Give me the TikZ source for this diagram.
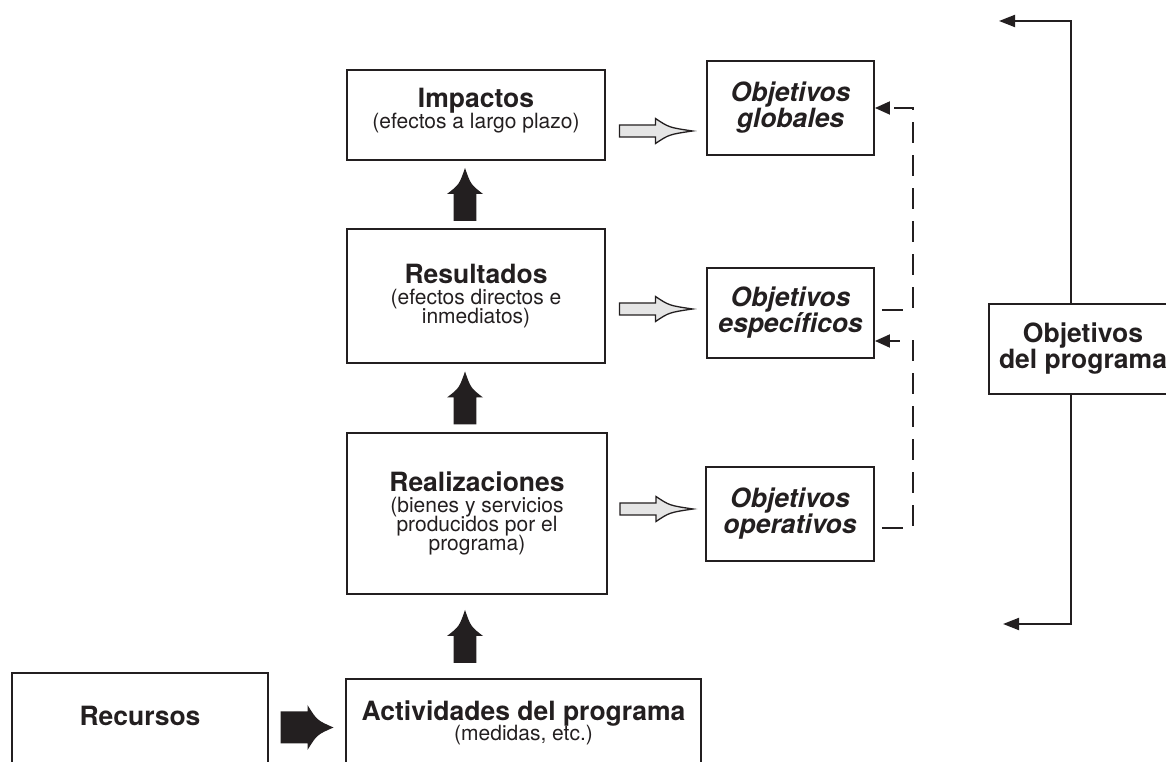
\documentclass[tikz,border=0pt]{standalone}
\usepackage{fontspec}
\setmainfont{TeX Gyre Heros}
\usetikzlibrary{arrows.meta,calc}

\definecolor{ink}{HTML}{231F20}
\lineskiplimit=-100pt
\newcommand{\boxtitle}[1]{{\fontsize{26.5}{26}\selectfont\bfseries #1}}

\tikzset{
  pics/blkarrow/.style 2 args={code={
    \fill[ink] (-26.5,-#1) -- (0.5,-#1) -- (0.5,-#2)
      .. controls (10,{-0.32*#2}) .. (26.5,0)
      .. controls (10,{0.32*#2}) .. (0.5,#2) -- (0.5,#1) -- (-26.5,#1) -- cycle;
  }},
  pics/hollowarrow/.style={code={
    \filldraw[fill=black!10, draw=ink, line width=1.3pt]
      (-36.5,-6) -- (-0.5,-6) -- (-0.5,-12.5)
      .. controls (13,-3.5) .. (36.5,0)
      .. controls (13,3.5) .. (-0.5,12.5) -- (-0.5,6) -- (-36.5,6) -- cycle;
  }}
}

\begin{document}
\begin{tikzpicture}[x=1pt, y=1pt,
        box/.style={draw=ink, line width=1.9pt, align=center, inner sep=0pt,
                    text=ink, font=\fontsize{21}{19}\selectfont},
        goal/.style={box, font=\fontsize{26.5}{26}\selectfont\bfseries\itshape},
        head/.style={box, font=\fontsize{26.5}{26}\selectfont\bfseries},
        link/.style={draw=ink, line width=1.9pt, -{Triangle[length=15pt,width=13pt]}},
        dashlink/.style={link, dash pattern=on 21pt off 12pt, dash phase=26pt}
    ]
        \useasboundingbox (0,0) rectangle (1166,762);
        \clip (0,0) rectangle (1166,762);

        \node[box, minimum width=258, minimum height=90, text height=31pt] (impact) at (476,647)
            {\boxtitle{Impactos}\\[1.5pt](efectos a largo plazo)};
        \node[box, minimum width=258, minimum height=134] (result) at (476,466)
            {\boxtitle{Resultados}\\[1.5pt](efectos directos e\\inmediatos)};
        \node[box, minimum width=260, minimum height=161] (realiz) at (477,248.5)
            {\boxtitle{Realizaciones}\\[1.5pt](bienes y servicios\\producidos por el\\programa)};
        \node[box, minimum width=355, minimum height=88] (activ) at (523.5,39)
            {\boxtitle{Actividades del programa}\\[1.5pt](medidas, etc.)};
        \node[head, minimum width=256, minimum height=120, text height=19pt,
              text depth=33pt, anchor=north] (recur) at (140,90) {Recursos};

        \node[goal, minimum width=167, minimum height=94] (glob) at (790.5,654) {Objetivos\\globales};
        \node[goal, minimum width=167, minimum height=90] (spec) at (790.5,449) {Objetivos\\específicos};
        \node[goal, minimum width=168, minimum height=94] (oper) at (790,248) {Objetivos\\operativos};

        \node[head, minimum width=188, minimum height=90] (prog) at (1083,413) {Objetivos\\del programa};

        % black arrows
        \path ([xshift=-11pt]result.north) -- ([xshift=-11pt]impact.south)
            pic[midway, sloped, allow upside down] {blkarrow={11.35}{18}};
        \path ([xshift=-11pt]result.south |- realiz.north) -- ([xshift=-11pt]result.south)
            pic[midway, sloped, allow upside down] {blkarrow={11.35}{18}};
        \path ([xshift=-12pt]realiz.south |- activ.north) -- ([xshift=-12pt]realiz.south)
            pic[midway, sloped, allow upside down] {blkarrow={11.35}{18}};
        \path ([yshift=-4.5pt]activ.west -| recur.east) -- ([yshift=-4.5pt]activ.west)
            pic[midway] {blkarrow={16}{22.5}};

        % hollow arrows
        \path ([yshift=-16pt]impact.east) -- ([yshift=-16pt]impact.east -| glob.west)
            pic[midway] {hollowarrow};
        \path ([yshift=-13pt]result.east) -- ([yshift=-13pt]result.east -| spec.west)
            pic[midway] {hollowarrow};
        \path ([yshift=4.5pt]realiz.east) -- ([yshift=4.5pt]realiz.east -| oper.west)
            pic[midway] {hollowarrow};

        % dashed feedback
        \draw[dashlink] ([yshift=-14pt]oper.east) -- ++(38,0) |- ([yshift=-28pt]spec.east);
        \draw[dashlink] ([yshift=3pt]spec.east) -- ++(38,0) |- (glob.east);

        % bracket
        \coordinate (topend) at (999,741);
        \coordinate (botend) at (1003,138);
        \draw[link, -{Triangle[length=16pt,width=12pt]}] ([xshift=-12pt]prog.north) |- (topend);
        \draw[link, -{Triangle[length=16pt,width=12pt]}] ([xshift=-12pt]prog.south) |- (botend);
    \end{tikzpicture}
\end{document}
